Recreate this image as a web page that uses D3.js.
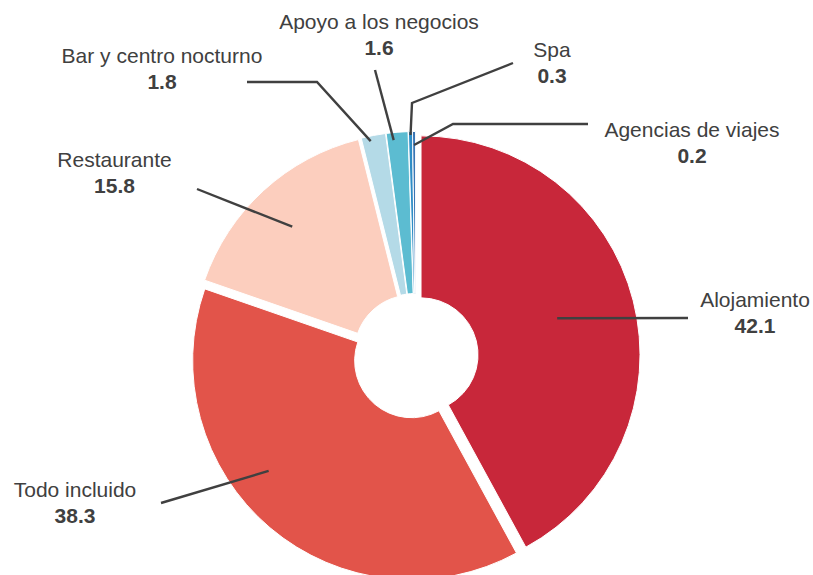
<!DOCTYPE html>
<html>
<head>
<meta charset="utf-8">
<script src="https://cdn.jsdelivr.net/npm/d3@7"></script>
<style>
  html, body { margin: 0; padding: 0; background: #fff; }
  svg { display: block; }
</style>
</head>
<body>
<svg id="chart" width="813" height="575"></svg>
<script>
// ---- Data ----
const categories = ["Alojamiento", "Todo incluido", "Restaurante", "Bar y centro nocturno", "Apoyo a los negocios", "Spa", "Agencias de viajes"];
const values = [42.1, 38.3, 15.8, 1.8, 1.6, 0.3, 0.2];
const valueLabels = ["42.1", "38.3", "15.8", "1.8", "1.6", "0.3", "0.2"];
const colors = ["#C8273A", "#E2544A", "#FCCEBE", "#B4DAE7", "#5CBCD1", "#2E8DC6", "#1A5FA8"];

// ---- Layout (label placement, leader lines) ----
const labelLayout = [
  { t: 0.495, r: 141,   pts: [[688, 318]],             x: 755,   y: 307 },
  { t: 0.588, r: 180.5, pts: [[161, 503]],             x: 75,    y: 497 },
  { t: 0.48,  r: 173,   pts: [[197, 189]],             x: 114.5, y: 167 },
  { t: 0.35,  r: 214,   pts: [[317, 82], [247, 82]],   x: 162,   y: 63 },
  { t: 0.31,  r: 211.5, pts: [[375, 70]],              x: 379,   y: 29 },
  { t: 0.5,   r: 215.5, pts: [[412, 103], [513, 63]],  x: 552,   y: 57 },
  { t: 0.5,   r: 205.5, pts: [[453, 124], [588, 124]], x: 692,   y: 137 }
];

const cx = 415.4, cy = 356.3;
const outerR = 219, innerR = 57, explode = 5.8;
const textColor = "#404040";

const svg = d3.select("#chart");
const data = categories.map((c, i) => ({ name: c, value: values[i], label: valueLabels[i], color: colors[i], i }));

const pie = d3.pie().value(d => d.value).sort(null).startAngle(0).endAngle(2 * Math.PI);
const arcs = pie(data);
const arc = d3.arc().innerRadius(innerR).outerRadius(outerR);

function sliceCenter(a) {
  const mid = (a.startAngle + a.endAngle) / 2;
  return [cx + explode * Math.sin(mid), cy - explode * Math.cos(mid)];
}

const g = svg.append("g");
g.selectAll("path.slice")
  .data(arcs)
  .join("path")
  .attr("class", "slice")
  .attr("d", arc)
  .attr("transform", d => { const c = sliceCenter(d); return `translate(${c[0]},${c[1]})`; })
  .attr("fill", d => d.data.color)
  .attr("stroke", "#fff")
  .attr("stroke-width", 1);

// leader lines and labels
const line = d3.line();
arcs.forEach((a, i) => {
  const L = labelLayout[i];
  const c = sliceCenter(a);
  const ang = a.startAngle + L.t * (a.endAngle - a.startAngle);
  const start = [c[0] + L.r * Math.sin(ang), c[1] - L.r * Math.cos(ang)];
  svg.append("path")
    .attr("d", line([start, ...L.pts]))
    .attr("fill", "none")
    .attr("stroke", textColor)
    .attr("stroke-width", 2.4);
  const t = svg.append("text")
    .attr("text-anchor", "middle")
    .attr("font-family", "Liberation Sans, Arial, sans-serif")
    .attr("font-size", "21px")
    .attr("fill", textColor);
  t.append("tspan").attr("x", L.x).attr("y", L.y).text(a.data.name);
  t.append("tspan").attr("x", L.x).attr("y", L.y + 26).attr("font-weight", "bold").text(a.data.label);
});
</script>
</body>
</html>
